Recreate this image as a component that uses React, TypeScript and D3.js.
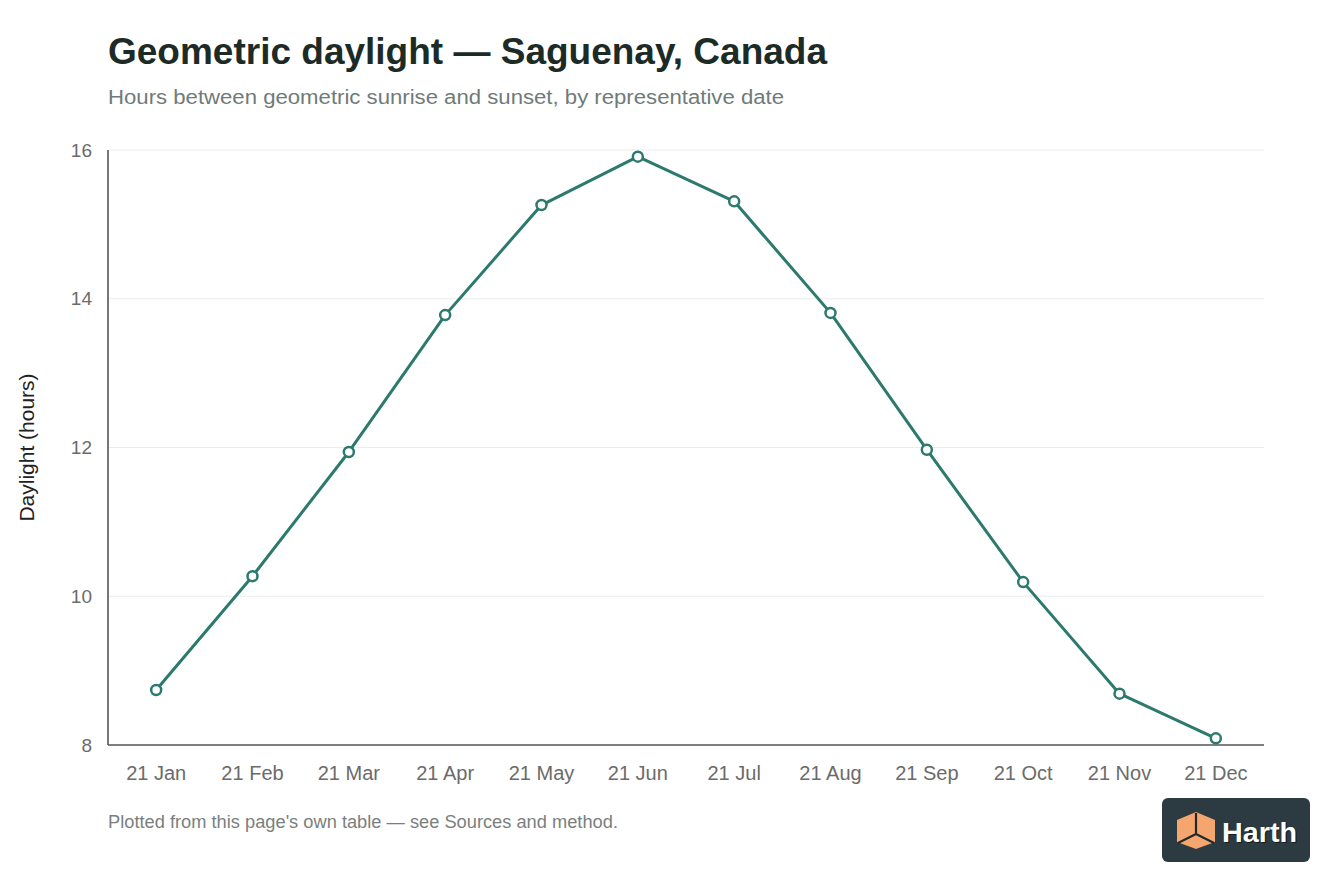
import React from "react";
import * as d3 from "d3";

const categories = ["21 Jan","21 Feb","21 Mar","21 Apr","21 May","21 Jun","21 Jul","21 Aug","21 Sep","21 Oct","21 Nov","21 Dec"];
const daylight = [8.74, 10.27, 11.94, 13.78, 15.26, 15.91, 15.31, 13.81, 11.97, 10.19, 8.69, 8.09];
const yTicks = [8, 10, 12, 14, 16];

const W = 1344, H = 896;
const M = { left: 108, right: 1264, top: 150, bottom: 745 };
const TEAL = "#2b7a6d";
const FONT = "'Liberation Sans', Arial, Helvetica, sans-serif";

export default function App() {
  const x = d3.scalePoint<string>().domain(categories).range([M.left, M.right]).padding(0.5);
  const y = d3.scaleLinear().domain([8, 16]).range([M.bottom, M.top]);
  const line = d3.line<number>().x((_, i) => x(categories[i])!).y(d => y(d));
  const path = line(daylight) || "";

  return (
    <svg width={W} height={H} style={{ position: "absolute", left: 0, top: 0, background: "#fff" }} fontFamily={FONT}>
      <rect x={0} y={0} width={W} height={H} fill="#fff" />
      <text x={108} y={64} fontSize={36} fontWeight="bold" fill="#1d2b27" textLength={719} lengthAdjust="spacingAndGlyphs">Geometric daylight — Saguenay, Canada</text>
      <text x={108} y={104} fontSize={20} fill="#6f7b78" textLength={676} lengthAdjust="spacingAndGlyphs">Hours between geometric sunrise and sunset, by representative date</text>

      {yTicks.map(t => (
        <g key={t}>
          {t !== 8 && <line x1={M.left} x2={M.right} y1={y(t)} y2={y(t)} stroke="#ececec" strokeWidth={1.2} />}
          <text x={92} y={y(t)} dy="0.35em" textAnchor="end" fontSize={19} fill="#6b6b6b">{t}</text>
        </g>
      ))}
      <line x1={M.left} x2={M.left} y1={M.top} y2={M.bottom} stroke="#555" strokeWidth={1.6} />
      <line x1={M.left} x2={M.right} y1={M.bottom} y2={M.bottom} stroke="#555" strokeWidth={1.6} />

      {categories.map(c => (
        <text key={c} x={x(c)} y={780} textAnchor="middle" fontSize={20} fill="#6b6b6b">{c}</text>
      ))}

      <text transform={`translate(34,${(M.top + M.bottom) / 2}) rotate(-90)`} textAnchor="middle" fontSize={21} fill="#222">Daylight (hours)</text>

      <path d={path} fill="none" stroke={TEAL} strokeWidth={3} strokeLinejoin="round" />
      {daylight.map((v, i) => (
        <circle key={i} cx={x(categories[i])} cy={y(v)} r={5} fill="#fff" stroke={TEAL} strokeWidth={2.5} />
      ))}

      <text x={108} y={828} fontSize={17.5} fill="#7a7f7e" textLength={510} lengthAdjust="spacingAndGlyphs">Plotted from this page's own table — see Sources and method.</text>

      <g>
        <rect x={1162} y={798} width={148} height={64} rx={6} fill="#2c3a41" />
        <path d="M1196,812 L1215,820 L1215,842 L1196,849 L1177,842 L1177,820 Z" fill="#f4a66e" />
        <path d="M1196,813 L1196,834 M1196,834 L1178,843 M1196,834 L1214,843" stroke="#1f2a2e" strokeWidth={2.2} fill="none" />
        <text x={1222} y={842} fontSize={27} fontWeight="bold" fill="#1a1a1a" transform="translate(1.2,1.2)" textLength={75} lengthAdjust="spacingAndGlyphs">Harth</text>
        <text x={1222} y={842} fontSize={27} fontWeight="bold" fill="#fff" textLength={75} lengthAdjust="spacingAndGlyphs">Harth</text>
      </g>
    </svg>
  );
}
